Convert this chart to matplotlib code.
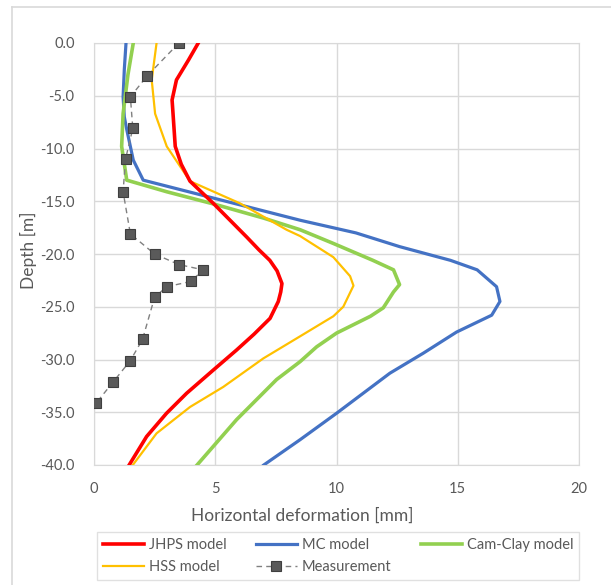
import matplotlib.pyplot as plt
from matplotlib.lines import Line2D

plt.rcParams['font.family'] = ['Lato', 'DejaVu Sans']

# measurement
meas_x = [3.5, 2.2, 1.5, 1.6, 1.3, 1.2, 1.5, 2.5, 3.5, 4.5, 4.0, 3.0, 2.5, 2.0, 1.5, 0.8, 0.1]
meas_d = [0, -3.1, -5.1, -8.1, -11.0, -14.1, -18.1, -20.0, -21.0, -21.5, -22.6, -23.1, -24.1, -28.1, -30.1, -32.1, -34.1]

# JHPS model
jhps_x = [4.3, 3.9, 3.4, 3.22, 3.25, 3.35, 3.6, 3.96, 4.92, 5.74, 6.3, 6.8, 7.25, 7.55, 7.75, 7.7, 7.6, 7.26, 6.6, 5.88, 4.92, 3.82, 2.99, 2.17, 1.45]
jhps_d = [0, -1.6, -3.5, -5.4, -6.4, -9.8, -11.5, -13.1, -15.2, -17.1, -18.4, -19.6, -20.6, -21.6, -22.8, -23.6, -24.5, -26.1, -27.6, -29.1, -31.0, -33.2, -35.1, -37.3, -40.0]

# MC model
mc_x = [1.32, 1.25, 1.2, 1.25, 1.35, 1.62, 2.03, 8.5, 10.8, 12.6, 14.7, 15.8, 16.6, 16.74, 16.4, 14.95, 13.58, 12.2, 10.0, 8.5, 7.0]
mc_d = [0, -2.5, -5.1, -7.0, -8.2, -11.1, -13.0, -16.8, -18.0, -19.3, -20.6, -21.5, -23.1, -24.5, -25.8, -27.4, -29.4, -31.3, -35.1, -37.6, -40.0]

# Cam-Clay model
cc_x = [1.62, 1.4, 1.2, 1.14, 1.35, 3.0, 5.0, 7.0, 8.5, 9.87, 11.5, 12.35, 12.6, 12.35, 11.93, 11.4, 10.0, 9.18, 8.5, 7.53, 5.88, 4.25]
cc_d = [0, -3.0, -6.7, -9.8, -13.0, -14.1, -15.3, -16.6, -17.7, -19.0, -20.6, -21.5, -22.9, -23.6, -25.1, -25.9, -27.5, -28.8, -30.2, -31.9, -35.7, -40.0]

# HSS model
hss_x = [2.58, 2.38, 2.52, 3.0, 3.96, 6.02, 7.94, 8.5, 9.87, 10.56, 10.7, 10.28, 9.87, 8.5, 6.98, 5.33, 3.96, 2.58, 1.6]
hss_d = [0, -3.5, -6.7, -9.8, -13.1, -15.2, -17.7, -18.3, -20.3, -22.1, -23.0, -25.0, -25.9, -27.8, -29.9, -32.6, -34.5, -37.0, -40.0]

fig = plt.figure(figsize=(6.11, 5.85), dpi=100)
ax = fig.add_axes([94 / 611, 1 - 465 / 585, 485 / 611, 422 / 585])

grid_c = '#d9d9d9'
txt_c = '#595959'

# chart border (only left/top visible)
fig.add_artist(Line2D([12 / 611, 12 / 611], [0, 1 - 7 / 585], color=grid_c, lw=1.2))
fig.add_artist(Line2D([12 / 611, 1], [1 - 7 / 585, 1 - 7 / 585], color=grid_c, lw=1.2))

ax.plot(jhps_x, jhps_d, color='#ff0000', lw=2.6, label='JHPS model', zorder=4)
ax.plot(mc_x, mc_d, color='#4472c4', lw=2.3, label='MC model', zorder=3)
ax.plot(cc_x, cc_d, color='#92d050', lw=2.6, label='Cam-Clay model', zorder=3)
ax.plot(hss_x, hss_d, color='#ffc000', lw=1.6, label='HSS model', zorder=3)
ax.plot(meas_x, meas_d, color='#808080', lw=1.0, ls=(0, (4, 3)), marker='s', ms=6.5,
        mfc='#5a5a5a', mec='#3f3f3f', mew=0.8, label='Measurement', zorder=5)

ax.set_xlim(0, 20)
ax.set_ylim(-40, 0)
ax.set_xticks([0, 5, 10, 15, 20])
ax.set_yticks([0, -5, -10, -15, -20, -25, -30, -35, -40])
ax.set_yticklabels(['%.1f' % v for v in [0, -5, -10, -15, -20, -25, -30, -35, -40]])
ax.grid(True, color=grid_c, lw=1)
ax.set_axisbelow(True)
for s in ax.spines.values():
    s.set_color(grid_c)
ax.tick_params(length=0, colors=txt_c, labelsize=10.5)
ax.tick_params(axis='x', pad=12)
ax.tick_params(axis='y', pad=14)

ax.set_xlabel('Horizontal deformation [mm]', fontsize=12.5, color=txt_c)
ax.set_ylabel('Depth [m]', fontsize=12.5, color=txt_c)
ax.xaxis.set_label_coords((302 - 94) / 485, (465 - 516) / 422)
ax.yaxis.set_label_coords((28 - 94) / 485, (465 - 250) / 422)
ax.xaxis.label.set_va('center')
ax.yaxis.label.set_va('center')

h, l = ax.get_legend_handles_labels()
order = [0, 3, 1, 4, 2]
leg = fig.legend([h[i] for i in order], [l[i] for i in order], ncol=3,
                 bbox_to_anchor=(97 / 611, 1 - 579 / 585, 482 / 611, 46 / 585),
                 loc='center', mode='expand', fontsize=10.5, frameon=True,
                 fancybox=False, edgecolor=grid_c, handlelength=2.8,
                 handletextpad=0.35, borderaxespad=0, labelspacing=0.55)
leg.get_frame().set_linewidth(1)
for t in leg.get_texts():
    t.set_color(txt_c)

fig.savefig('out.png', dpi=100)
